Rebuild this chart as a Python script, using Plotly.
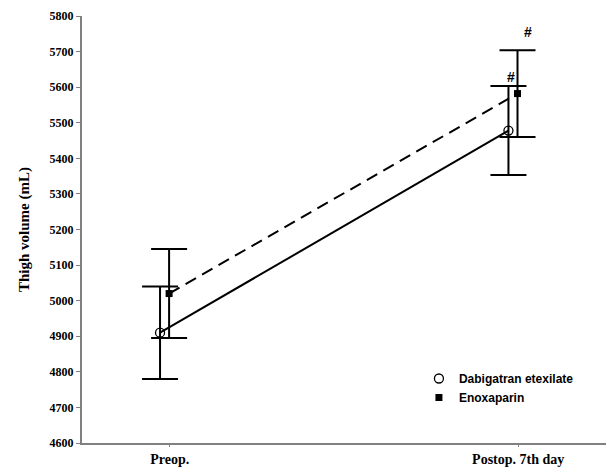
import plotly.graph_objects as go

categories = ["Preop.", "Postop. 7th day"]
dabigatran_mean = [4910, 5478]
dabigatran_sd = [130, 125]
enoxaparin_mean = [5020, 5582]
enoxaparin_sd = [125, 122]
y_ticks = list(range(4600, 5801, 100))
sig_labels = ["#", "#"]

x_cat = [0, 1]
x_dab = [x - 0.028 for x in x_cat]
x_eno = [x - 0.002 for x in x_cat]

fig = go.Figure()

# connecting lines (not in legend)
fig.add_trace(go.Scatter(x=x_dab, y=dabigatran_mean, mode="lines",
                         line=dict(color="black", width=2), showlegend=False, hoverinfo="skip"))
fig.add_trace(go.Scatter(x=x_eno, y=enoxaparin_mean, mode="lines",
                         line=dict(color="black", width=2, dash="12px,7px"), showlegend=False, hoverinfo="skip"))

# markers with error bars
fig.add_trace(go.Scatter(x=x_dab, y=dabigatran_mean, mode="markers", name="Dabigatran etexilate",
                         marker=dict(symbol="circle-open", size=9, color="black", line=dict(width=1.3)),
                         error_y=dict(type="data", array=dabigatran_sd, color="black", thickness=2, width=18)))
fig.add_trace(go.Scatter(x=x_eno, y=enoxaparin_mean, mode="markers", name="Enoxaparin",
                         marker=dict(symbol="square", size=7, color="black"),
                         error_y=dict(type="data", array=enoxaparin_sd, color="black", thickness=2, width=18)))

# significance marks at postop
sig_points = [(x_dab[1], dabigatran_mean[1] + dabigatran_sd[1], 3, 9),
              (x_eno[1], enoxaparin_mean[1] + enoxaparin_sd[1], 10, 18)]
for lab, (xv, yv, xs, ys) in zip(sig_labels, sig_points):
    fig.add_annotation(x=xv, y=yv, text=lab, showarrow=False, xshift=xs, yshift=ys,
                       font=dict(family="Liberation Sans", size=14, color="black", weight="bold"))

serif = "Liberation Serif"
fig.update_layout(
    width=607, height=467,
    margin=dict(l=82, r=1, t=16, b=24, autoexpand=False),
    paper_bgcolor="white", plot_bgcolor="white",
    showlegend=True,
    legend=dict(x=0.643, y=0.185, xanchor="left", yanchor="top", bgcolor="rgba(0,0,0,0)",
                font=dict(family="Liberation Sans", size=12, color="black", weight="bold"),
                itemwidth=30, tracegroupgap=0),
    xaxis=dict(range=[-0.252, 1.252], tickvals=x_cat, ticktext=categories,
               showline=True, linecolor="#808080", linewidth=2, showgrid=False, zeroline=False,
               ticks="outside", ticklen=2, tickcolor="#808080",
               tickfont=dict(family=serif, size=14, color="black", weight="bold")),
    yaxis=dict(range=[4600, 5800], tickvals=y_ticks,
               showline=True, linecolor="#808080", linewidth=2, showgrid=False, zeroline=False,
               ticks="outside", ticklen=4, tickcolor="#808080",
               tickfont=dict(family=serif, size=12, color="black", weight="bold"),
               title=dict(text="Thigh volume (mL)", standoff=16,
                          font=dict(family=serif, size=15, color="black", weight="bold"))),
)

fig.write_html("out.html", config={"displayModeBar": False},
               post_script="document.body.style.margin='0';document.body.style.overflow='hidden';")
